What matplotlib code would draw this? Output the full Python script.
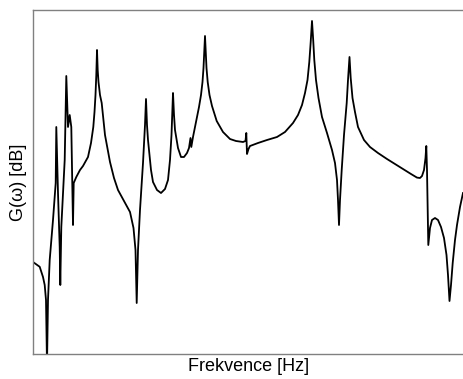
import matplotlib
matplotlib.use("Agg")
import matplotlib.pyplot as plt

plt.rcParams['font.family'] = ['Liberation Sans', 'DejaVu Sans']

freq_hz = [0, 13.4, 20, 23.4, 26, 28, 30, 33.4, 40, 45.4, 46.6, 50, 53.4, 54.6, 56.6,
           63.4, 66.6, 70, 73.4, 76.6, 80, 81.4, 86.6, 94, 100, 110, 116, 120.6, 123,
           125, 126.6, 128, 129.4, 131, 134, 137.4, 144, 154, 162, 170, 182, 194, 201,
           205, 207.4, 210, 214, 220, 224, 226, 228, 230, 236, 240, 248, 256, 264, 270,
           274, 277, 280, 282, 284, 290, 296, 302, 308, 312, 315, 316.6, 320, 326, 332,
           336, 339, 341, 342.6, 344, 345.4, 347, 349.4, 353, 358, 367.4, 380, 394, 406,
           420, 425, 426.6, 428, 431, 434, 450, 468, 488, 504, 520, 530, 538, 544, 549,
           552.6, 555.4, 558, 560.4, 562.6, 566, 571, 578, 588, 598, 604, 608, 610, 612,
           614, 617.4, 622, 627.4, 630, 633, 635.4, 639, 644, 650, 662, 674, 690, 708,
           724, 740, 756, 768, 774, 778, 782, 785, 786.6, 788, 790.6, 794, 798, 804, 810,
           816, 822, 827, 830, 833, 836, 839.4, 844, 848, 854, 860]

gain_db = [-63, -64.2, -66.75, -68.75, -72.5, -88.75, -72.5, -62.5, -52.5, -43.25,
           -29.25, -45.75, -59.25, -68.75, -54.25, -37.5, -16.5, -29.25, -26.25, -29.25,
           -53.75, -43.25, -41.75, -40, -39, -36.75, -33.25, -29.25, -25.5,
           -21.25, -16.25, -10, -15, -18, -21.25, -23.25, -31.25, -38, -42, -45, -47.75,
           -50.5, -54.5, -60, -73.25, -60, -50, -38.25, -28.75, -22.25, -28.75, -32.5,
           -40, -43, -45, -45.75, -44.75, -42.5, -37.5, -31.25, -20.75, -26.25, -30,
           -34.5, -36.75, -36.75, -35.75, -34.5, -32, -34.25, -31.75, -28, -24.25,
           -21.25, -18, -14.5, -10.5, -6.5, -10.5, -14.5, -18, -21.25, -24, -27.75,
           -30.5, -32.25, -32.75, -33, -32.75, -30.75, -36, -34.75, -34, -33.25, -32.5,
           -31.75, -30.5, -28.25, -26.25, -23.75, -20.75, -17.5, -13, -8, -2.75, -7.5,
           -12.5, -17.5, -22, -26.75, -30.75, -35, -38.25, -42.5, -47.5, -53.75, -47.5,
           -40, -31.25, -23.25, -17.5, -11.75, -17, -22, -25.5, -29.25, -32.5, -34.25,
           -35.75, -37.25, -38.5, -39.75, -41, -41.9, -42, -41.5, -40, -37, -34, -40,
           -58.75, -54.5, -52.5, -52, -52.5, -54.25, -57, -61.25, -66.25, -72.75, -68.75,
           -63.25, -57.5, -53.75, -49.25, -45.75]

fig = plt.figure(figsize=(4.64, 3.79), dpi=100)
ax = fig.add_axes([33/464, (379-354)/379, 1 - 33/464, (354-10)/379])
ax.plot(freq_hz, gain_db, color='black', lw=1.3)
ax.set_xlim(0, 862)
ax.set_ylim(-86, 0)
ax.set_xticks([])
ax.set_yticks([])
for s in ['left', 'top', 'bottom']:
    ax.spines[s].set_color('#808080')
    ax.spines[s].set_linewidth(1.0)
ax.spines['right'].set_visible(False)
ax.set_xlabel('Frekvence [Hz]', fontsize=13, labelpad=3)
ax.set_ylabel('G(ω) [dB]', fontsize=13, labelpad=4)
fig.savefig('out.png', dpi=100)
